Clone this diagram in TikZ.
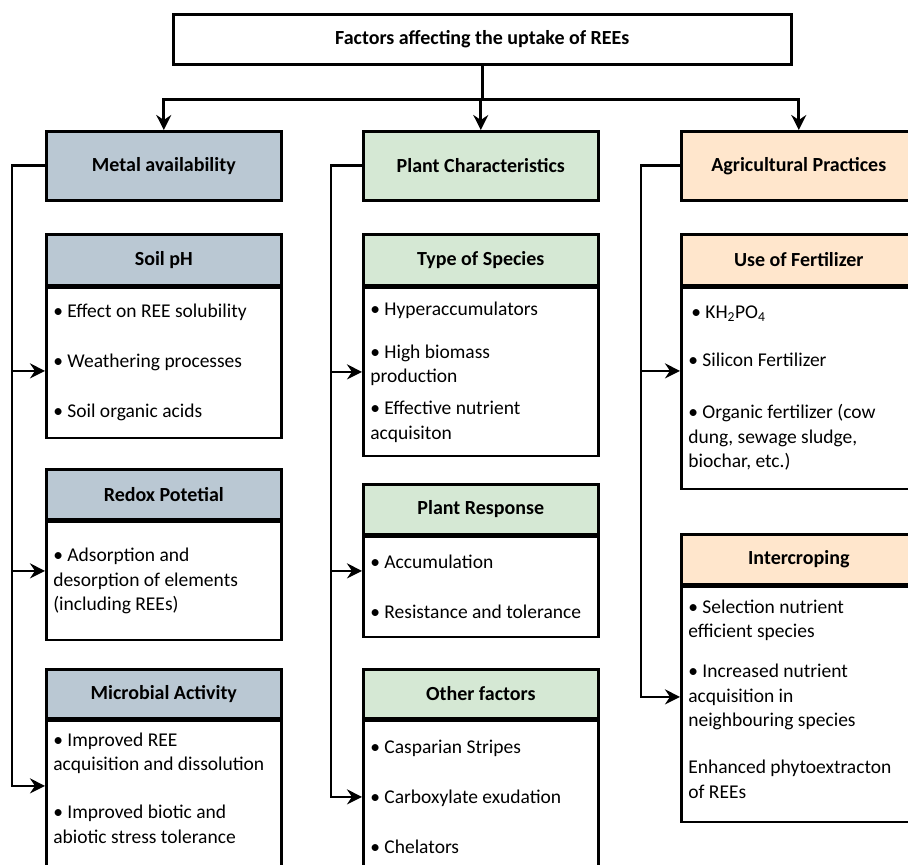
\documentclass[tikz,border=0pt]{standalone}
\usepackage{fontspec}
\setmainfont{Carlito}
\usetikzlibrary{arrows.meta,positioning}
\definecolor{metalfill}{HTML}{BAC8D3}
\definecolor{plantfill}{HTML}{D5E8D4}
\definecolor{agrifill}{HTML}{FFE6CC}
\tikzset{
  box/.style={draw,line width=2.6pt,rectangle,anchor=north west,inner sep=0pt,minimum width=235pt},
  headbox/.style={box,font=\fontsize{20}{24.5}\selectfont\bfseries},
  bodybox/.style={box,fill=white,inner xsep=7pt,text width=221pt,align=flush left,font=\fontsize{19.5}{24.5}\selectfont},
  link/.style={line width=2.7pt},
  arr/.style={link,-{Stealth[length=15pt,width=15pt,inset=5pt]}}
}

\begin{document}
\begin{tikzpicture}[x=1pt,y=-1pt]
    \useasboundingbox (0,0) rectangle (908,865);
    \fill[white] (0,0) rectangle (908,865);
    \clip (0,0) rectangle (908,865);

    % — Top box and the three groups
    \node[headbox,minimum width=618pt,minimum height=50pt] (title) at (172,13) {Factors affecting the uptake of REEs};
    \node[headbox,fill=metalfill,minimum height=69pt] (metal) at (45,130) {Metal availability};
    \node[headbox,fill=plantfill,minimum height=69pt] (plant) at (362,130) {Plant Characteristics};
    \node[headbox,fill=agrifill,minimum height=69pt] (agri) at (680,130) {Agricultural Practices};

    % — Metal availability
    \node[headbox,fill=metalfill,minimum height=51pt] (soilhd) at (45,233) {Soil pH};
    \node[bodybox,minimum height=150pt] (soilbd) at (soilhd.south west) {• Effect on REE solubility\\[25.5pt]• Weathering processes\\[25.5pt]• Soil organic acids};
    \node[headbox,fill=metalfill,minimum height=50pt] (redoxhd) at (45,468) {Redox Potetial};
    \node[bodybox,minimum height=118pt] (redoxbd) at (redoxhd.south west) {• Adsorption and\\desorption of elements\\(including REEs)};
    \node[headbox,fill=metalfill,minimum height=49pt] (michd) at (45,668) {Microbial Activity};
    \node[bodybox,minimum height=184pt] (micbd) at (michd.south west) {• Improved REE\\acquisition and dissolution\\[23.5pt]• Improved biotic and\\abiotic stress tolerance\par\kern50pt};

    % — Plant characteristics
    \node[headbox,fill=plantfill,minimum height=51pt] (typehd) at (362,233) {Type of Species};
    \node[bodybox,minimum height=168pt] (typebd) at (typehd.south west) {• Hyperaccumulators\\[18.5pt]• High biomass\\production\\[7.5pt]• Effective nutrient\\acquisiton};
    \node[headbox,fill=plantfill,minimum height=50pt] (resphd) at (362,483) {Plant Response};
    \node[bodybox,minimum height=100pt] (respbd) at (resphd.south west) {• Accumulation\\[25.5pt]• Resistance and tolerance};
    \node[headbox,fill=plantfill,minimum height=49pt] (othhd) at (362,668) {Other factors};
    \node[bodybox,minimum height=152pt] (othbd) at (othhd.south west) {• Casparian Stripes\\[25.5pt]• Carboxylate exudation\\[25.5pt]• Chelators};

    % — Agricultural practices
    \node[headbox,fill=agrifill,minimum height=51pt] (ferthd) at (680,233) {Use of Fertilizer};
    \node[bodybox,minimum height=201pt] (fertbd) at (ferthd.south west) {\hspace*{3pt}• KH\textsubscript{2}PO\textsubscript{4}\\[23.5pt]• Silicon Fertilizer\\[27.5pt]• Organic fertilizer (cow\\dung, sewage sludge,\\biochar, etc.)};
    \node[headbox,fill=agrifill,minimum height=50pt] (crophd) at (680,533) {Intercroping};
    \node[bodybox,minimum height=235pt] (cropbd) at (crophd.south west) {• Selection nutrient\\efficient species\\[15.5pt]• Increased nutrient\\acquisition in\\neighbouring species\\[22.5pt]Enhanced phytoextracton\\of REEs\par\kern11pt};

    % — Split from the top box
    \coordinate (split) at ([yshift=-34pt]title.south);
    \draw[link] (title.south) -- (split);
    \foreach \hd in {metal,plant,agri}
      \draw[arr] (split) -| (\hd.north);

    % — Entry points on the boxes
    \coordinate (soilin)  at ([yshift=-8pt]soilbd.west);
    \coordinate (redoxin) at ([yshift=10pt]redoxbd.west);
    \coordinate (micin)   at ([yshift=27pt]micbd.west);
    \coordinate (typein)  at (typebd.west);
    \coordinate (respin)  at ([yshift=16pt]respbd.west);
    \coordinate (othin)   at (othbd.west);
    \coordinate (fertin)  at ([yshift=17.5pt]fertbd.west);
    \coordinate (cropin)  at ([yshift=7.5pt]cropbd.west);

    % — Side trunks
    \coordinate (mtrunk) at ([xshift=-33pt]metal.west);
    \coordinate (ptrunk) at ([xshift=-31pt]plant.west);
    \coordinate (atrunk) at ([xshift=-39pt]agri.west);

    \draw[arr] (metal.west) -- (mtrunk) |- (micin);
    \foreach \tip in {soilin,redoxin}
      \draw[arr] (mtrunk |- \tip) -- (\tip);

    \draw[arr] (plant.west) -- (ptrunk) |- (othin);
    \foreach \tip in {typein,respin}
      \draw[arr] (ptrunk |- \tip) -- (\tip);

    \draw[arr] (agri.west) -- (atrunk) |- (cropin);
    \draw[arr] (atrunk |- fertin) -- (fertin);
\end{tikzpicture}
\end{document}
